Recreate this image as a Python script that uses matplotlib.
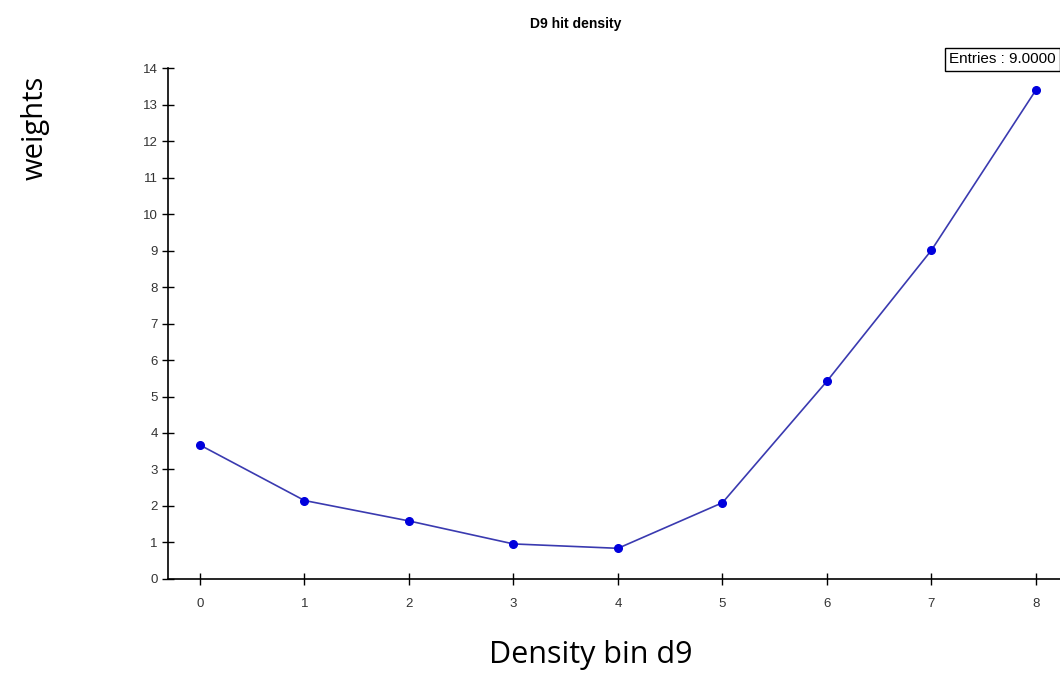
import matplotlib.pyplot as plt

# values
bins = [0, 1, 2, 3, 4, 5, 6, 7, 8]
weights = [3.67, 2.15, 1.59, 0.96, 0.84, 2.09, 5.42, 9.01, 13.4]
yticks = list(range(0, 15))

fig = plt.figure(figsize=(10.6, 6.74), dpi=100)
ax = fig.add_axes([0.1585, 0.141, 0.8415, 0.758])

ax.plot(bins, weights, color="#3a3ab0", lw=1.2, marker="o", ms=5.5,
        mfc="#0000dd", mec="#0000dd", zorder=3)

ax.set_xlim(-0.306, 8.23)
ax.set_ylim(0, 14)
ax.set_xticks(bins)
ax.set_yticks(yticks)
for s in ("top", "right"):
    ax.spines[s].set_visible(False)
for s in ("left", "bottom"):
    ax.spines[s].set_linewidth(1.2)
ax.tick_params(direction="inout", length=9, width=1, labelsize=9.5,
               labelcolor="#333333")
ax.tick_params(axis="x", pad=9)
ax.tick_params(axis="y", pad=3)
for lab in ax.get_xticklabels() + ax.get_yticklabels():
    lab.set_family("Liberation Sans")

fig.text(0.543, 0.975, "D9 hit density", ha="center", va="top",
         fontsize=10, fontweight="bold", family="Liberation Sans")
fig.text(0.033, 0.81, "weights", rotation=90, ha="center", va="center",
         fontsize=21, family="Open Sans")
fig.text(0.557, 0.028, "Density bin d9", ha="center", va="center",
         fontsize=22, family="Open Sans")
fig.text(0.996, 0.912, "Entries : 9.0000", ha="right", va="center",
         fontsize=11, family="Liberation Sans",
         bbox=dict(boxstyle="square,pad=0.3", fc="white", ec="black", lw=1))

fig.savefig("out.png", dpi=100)
